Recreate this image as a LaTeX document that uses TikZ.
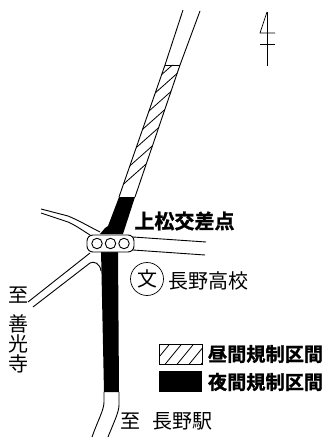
\documentclass[tikz,border=0pt]{standalone}
\usepackage{fontspec}
\newfontfamily\jp{Noto Sans CJK JP}
\newfontfamily\jpb[FakeBold=1.2]{Noto Sans CJK JP Bold}
\tikzset{
  road/.style={line width=0.9pt,black},
  thin line/.style={line width=0.7pt,black},
  label/.style={inner sep=0pt,outer sep=0pt,font=\jp\fontsize{20}{20}\selectfont},
  boldlabel/.style={inner sep=0pt,outer sep=0pt,font=\jpb\fontsize{19.2}{19.2}\selectfont},
  hatchline/.style={line width=0.8pt,black},
}
\begin{document}
\begin{tikzpicture}[x=1pt,y=-1pt]
\useasboundingbox (0,0) rectangle (326,438);
% north arrow
\draw[thin line] (267,12) -- (267,66);
\draw[thin line] (267,12) -- (260,33) -- (275,33);
\draw[thin line] (260,44) -- (275,44);
% upper road
\draw[road] (183,10) -- (165,65);
\draw[road] (200,11) -- (180,65);
\draw[road] (165,65) -- (180,65);
\begin{scope}
 \clip (165,65) -- (180,65) -- (135,197) -- (119,197) -- cycle;
 \foreach \k in {0,...,12} {
   \draw[hatchline] (100,{205-\k*12.6+0}) -- (190,{205-\k*12.6-80});
 }
\end{scope}
\draw[road] (165,65) -- (119,197);
\draw[road] (180,65) -- (135,197);
% black section
\fill (119,197) -- (135,197) -- (123,234) -- (100,234) -- (105,228) -- (108,226) -- cycle;
\fill (101,250) -- (118,250) -- (119,392) -- (104,392) -- cycle;
% lower road
\draw[road] (104,392) -- (104,402) .. controls (104,410) and (98,420) .. (92,437);
\draw[road] (119,392) -- (119,405) .. controls (119,412) and (114,422) .. (108,437);
% west road
\draw[road] (41,209) -- (68,216) .. controls (78,220) and (90,227) .. (100,232);
\draw[road] (41,213) -- (68,222) .. controls (75,225) and (82,230) .. (90,235);
% southwest road
\draw[road] (90,253) -- (28,302);
\draw[road] (33,307) -- (90,263) .. controls (94,261) and (100,263) .. (101,271);
% east road
\draw[road] (133,237) -- (206,242);
\draw[road] (133,250) -- (205,255);
% signal
\node[draw,line width=0.9pt,fill=white,rounded corners=6pt,minimum width=47pt,minimum height=17pt,inner sep=0pt] (signal) at (110.5,243.5) {};
\foreach \n/\x in {sa/97,sb/110.5,sc/124}
  \node[draw,line width=0.9pt,circle,minimum size=10.5pt,inner sep=0pt] (\n) at (\x,243.5) {};
% labels
\node[boldlabel,font=\jpb\fontsize{20}{20}\selectfont] (kousaten) at (184.5,221) {上松交差点};
\node[draw,circle,line width=0.7pt,minimum size=33pt,inner sep=0pt] (bun) at (147,279) {};
\node[label] (buntext) at (147,279) {文};
\node[label] (school) at (208,281) {長野高校};
\node[label] (ita) at (18.5,295) {至};
\node[label,align=center] (zenkoji) at (18.5,344) {善\\[0pt]光\\[0pt]寺};
\node[label] (itb) at (130.5,421.5) {至};
\node[label] (nagano) at (182,421.5) {長野駅};
% legend
\begin{scope}
 \clip (159,344) rectangle (202,364);
 \foreach \k in {0,...,6}
   \draw[hatchline] ({150+\k*12},368) -- ({150+\k*12+23},340);
\end{scope}
\draw[thin line] (159,344) rectangle (202,364);
\fill (159,371) rectangle (202,392);
\node[boldlabel] (day) at (265.5,354) {昼間規制区間};
\node[boldlabel] (night) at (265.5,382) {夜間規制区間};
\end{tikzpicture}
\end{document}
